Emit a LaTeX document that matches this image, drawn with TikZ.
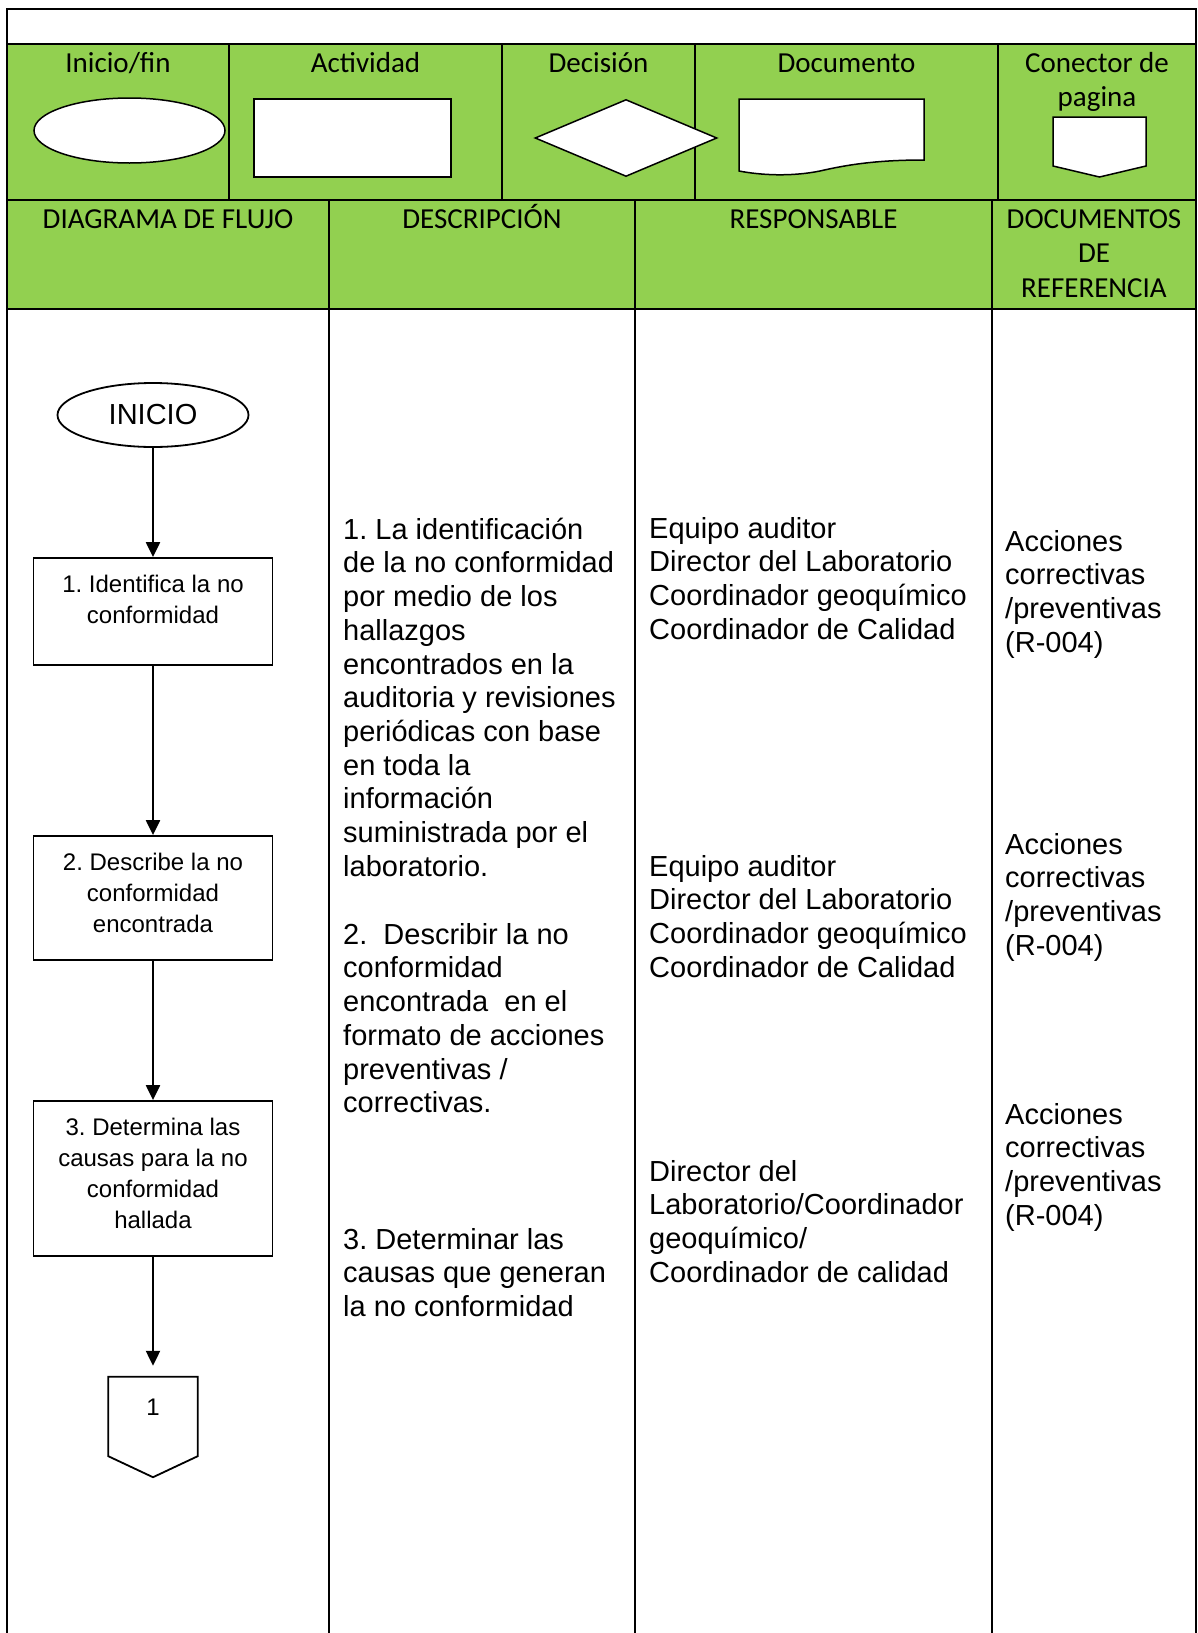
\documentclass[tikz,border=0pt]{standalone}
\usepackage{fontspec}
\setmainfont{Liberation Sans}
\newfontfamily\calfont{Carlito}
\usetikzlibrary{arrows.meta,shapes.geometric}
\definecolor{hdrgreen}{RGB}{146,208,80}
\frenchspacing
% invisible struts that fix the height of a first line
\newcommand\hlead{\rule{0pt}{25pt}}
\newcommand\blead{\rule{0pt}{30pt}}
\newcommand\slead{\rule{0pt}{34pt}}
\begin{document}
\begin{tikzpicture}[x=1pt,y=-1pt,
  grid/.style={line width=2.2pt},
  hdr/.style={font=\calfont\fontsize{29}{34.5}\selectfont, inner sep=0, anchor=north, align=center},
  sym/.style={draw, fill=white, line width=1.5pt, inner sep=0},
  body/.style={font=\fontsize{29}{33.7}\selectfont, inner sep=0, anchor=north west, align=left},
  stepbox/.style={draw, fill=white, line width=1.8pt, inner sep=0, font=\fontsize{24}{31.3}\selectfont},
  flow/.style={line width=2.2pt, -{Triangle[length=15pt,width=14pt]}},
]
\useasboundingbox (0,0) rectangle (1198,1633);

% header background
\fill[hdrgreen] (7,44) rectangle (1196,309);

% table rules
\draw[grid] (7,1633) -- (7,9) -- (1196,9) -- (1196,1633);
\draw[grid] (7,44) -- (1196,44);
\draw[grid] (7,200) -- (1196,200);
\draw[grid] (7,309) -- (1196,309);
\foreach \x in {229,502,695,998} \draw[grid] (\x,44) -- (\x,200);
\foreach \x in {329,635,992} \draw[grid] (\x,200) -- (\x,1633);

% legend of symbols
\node[hdr] (lInicio) at (118,47) {\hlead Inicio/fin};
\node[hdr] (lAct) at (365.5,47) {\hlead Actividad};
\node[hdr] (lDec) at (598.5,47) {\hlead Decisión};
\node[hdr] (lDoc) at (846.5,47) {\hlead Documento};
\node[hdr] (lCon) at (1097,47) {\hlead Conector de\\pagina};

\node[sym, ellipse, minimum width=191pt, minimum height=65pt] (hEll) at (129.5,130.5) {};
\node[sym, rectangle, minimum width=197pt, minimum height=78pt] (hAct) at (352.5,138) {};
\node[sym, diamond, minimum width=182pt, minimum height=77pt] (hDec) at (626,138) {};
\draw[sym] (739,99) -- (924,99) -- (924,160)
  .. controls (880,160) and (850,164) .. (820,171)
  .. controls (790,177) and (760,175) .. (739,171) -- cycle;
\draw[sym] (1053,117) -- (1146,117) -- (1146,166) -- (1099.5,177) -- (1053,166) -- cycle;

% column titles
\node[hdr] (tFlujo) at (168,203) {\hlead DIAGRAMA DE FLUJO};
\node[hdr] (tDesc) at (482,203) {\hlead DESCRIPCIÓN};
\node[hdr] (tResp) at (813.5,203) {\hlead RESPONSABLE};
\node[hdr] (tDocs) at (1094,203) {\hlead DOCUMENTOS\\DE\\REFERENCIA};

% flow chart
\node[sym, ellipse, line width=1.8pt, minimum width=191pt, minimum height=64pt,
  font=\fontsize{29}{33}\selectfont] (start) at (153,415) {INICIO};
\node[stepbox] (b1) at (153,611.5)
  {\parbox[c][107pt][t]{239pt}{\centering\slead 1. Identifica la no\\conformidad}};
\node[stepbox] (b2) at (153,898)
  {\parbox[c][124pt][t]{239pt}{\centering\slead 2. Describe la no\\conformidad\\encontrada}};
\node[stepbox] (b3) at (153,1178.5)
  {\parbox[c][155pt][t]{239pt}{\centering\slead 3. Determina las\\causas para la no\\conformidad\\hallada}};
\node[inner sep=0, minimum width=89pt, minimum height=100pt] (c1) at (153,1427) {};
\draw[line width=1.8pt, fill=white] (c1.north west) -- (c1.north east)
  -- ([yshift=21pt]c1.south east) -- (c1.south) -- ([yshift=21pt]c1.south west) -- cycle;
\node[inner sep=0, font=\fontsize{24}{28}\selectfont] (c1num) at (153,1407) {1};

\draw[flow] (start) -- (b1);
\draw[flow] (b1) -- (b2);
\draw[flow] (b2) -- (b3);
\draw[flow, shorten >=11pt] (b3) -- (c1);

% descriptions
\node[body] (d1) at (343,509) {\blead 1. La identificación\\de la no conformidad\\por medio de los\\hallazgos\\encontrados en la\\auditoria y revisiones\\periódicas con base\\en toda la\\información\\suministrada por el\\laboratorio.};
\node[body] (d2) at (343,914) {\blead 2.\ \ Describir la no\\conformidad\\encontrada\ \ en el\\formato de acciones\\preventivas /\\correctivas.};
\node[body] (d3) at (343,1219) {\blead 3. Determinar las\\causas que generan\\la no conformidad};

% responsibles
\node[body] (r1) at (649,508) {\blead Equipo auditor\\Director del Laboratorio\\Coordinador geoquímico\\Coordinador de Calidad};
\node[body] (r2) at (649,846) {\blead Equipo auditor\\Director del Laboratorio\\Coordinador geoquímico\\Coordinador de Calidad};
\node[body] (r3) at (649,1151) {\blead Director del\\Laboratorio/Coordinador\\geoquímico/\\Coordinador de calidad};

% reference documents
\node[body] (f1) at (1005,521) {\blead Acciones\\correctivas\\/preventivas\\(R-004)};
\node[body] (f2) at (1005,824) {\blead Acciones\\correctivas\\/preventivas\\(R-004)};
\node[body] (f3) at (1005,1094) {\blead Acciones\\correctivas\\/preventivas\\(R-004)};
\end{tikzpicture}
\end{document}
